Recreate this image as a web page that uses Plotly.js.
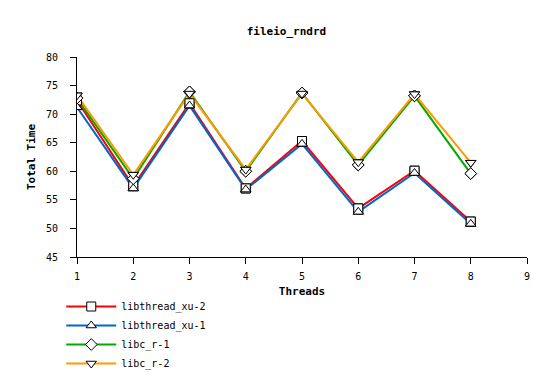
<!DOCTYPE html>
<html>
<head>
<meta charset="utf-8">
<script src="https://cdn.plot.ly/plotly-3.0.1.min.js"></script>
<style>html,body{margin:0;padding:0;background:#fff}#chart{width:554px;height:391px}</style>
</head>
<body>
<div id="chart"></div>
<script>
const threads = [1, 2, 3, 4, 5, 6, 7, 8];
const seriesNames = ["libthread_xu-2", "libthread_xu-1", "libc_r-1", "libc_r-2"];
const libthread_xu_2 = [72.4, 57.4, 71.9, 57.0, 65.3, 53.5, 60.1, 51.2];
const libthread_xu_1 = [71.2, 57.0, 71.5, 56.8, 64.8, 52.9, 59.7, 50.8];
const libc_r_1 = [72.8, 58.7, 73.9, 60.0, 73.7, 61.1, 73.2, 59.6];
const libc_r_2 = [73.3, 59.4, 73.6, 60.3, 73.6, 61.6, 73.5, 61.5];
const xTicks = [1, 2, 3, 4, 5, 6, 7, 8, 9];
const yTicks = [45, 50, 55, 60, 65, 70, 75, 80];

const seriesValues = [libthread_xu_2, libthread_xu_1, libc_r_1, libc_r_2];
const colors = ["#ff0000", "#0066cc", "#00aa00", "#ff9900"];
const symbols = ["square", "triangle-up", "diamond", "triangle-down"];

const mono = "DejaVu Sans Mono, monospace";
const font = {family: mono, size: 10, color: "#000"};
const traces = [];
seriesValues.forEach((vals, i) => {
  traces.push({
    x: threads, y: vals, name: seriesNames[i], type: "scatter", mode: "lines+markers",
    line: {color: colors[i], width: 2},
    marker: {symbol: symbols[i], size: 9, color: "#fff", line: {color: "#000", width: 1}}
  });
});
seriesValues.forEach((vals, i) => {
  traces.push({
    x: threads, y: vals, type: "scatter", mode: "markers", showlegend: false, hoverinfo: "skip",
    marker: {symbol: symbols[i], size: 9, color: "#fff", line: {color: "#000", width: 1}}
  });
});

const layout = {
  width: 554, height: 391,
  margin: {l: 77, r: 27, t: 57, b: 134},
  paper_bgcolor: "#fff", plot_bgcolor: "#fff",
  font: font,
  title: {text: "<b>fileio_rndrd</b>", x: 0.517, xanchor: "center", y: 0.92, yanchor: "middle", font: {family: mono, size: 11}},
  xaxis: {
    range: [1, 9], tickvals: xTicks, ticktext: xTicks.map(String), automargin: false,
    showgrid: false, zeroline: false, showline: true, linecolor: "#000", linewidth: 1,
    ticks: "outside", ticklen: 6, tickcolor: "#000", tickfont: font, ticklabelstandoff: 4,
    title: {text: "<b>Threads</b>", font: {family: mono, size: 11}, standoff: 6}
  },
  yaxis: {
    range: [45, 80], tickvals: yTicks, ticktext: yTicks.map(String), automargin: false,
    showgrid: false, zeroline: false, showline: true, linecolor: "#000", linewidth: 1,
    ticks: "outside", ticklen: 6, tickcolor: "#000", tickfont: font, ticklabelstandoff: 10,
    title: {text: "<b>Total Time</b>", font: {family: mono, size: 11}, standoff: 8}
  },
  showlegend: true,
  legend: {
    orientation: "v", x: -0.035, xanchor: "left", y: -0.175, yanchor: "top",
    font: {family: mono, size: 10, color: "#000"},
    bgcolor: "rgba(0,0,0,0)", itemwidth: 50
  }
};

Plotly.newPlot("chart", traces, layout, {displayModeBar: false, staticPlot: true});
</script>
</body>
</html>
